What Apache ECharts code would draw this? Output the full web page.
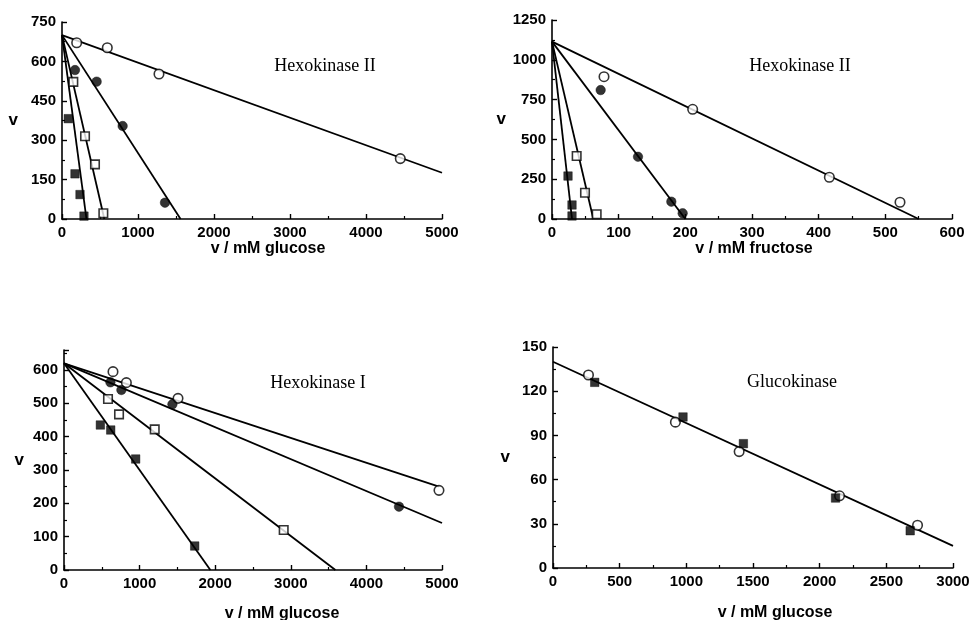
<!DOCTYPE html>
<html>
<head>
<meta charset="utf-8">
<script src="https://cdn.jsdelivr.net/npm/echarts@6/dist/echarts.min.js"></script>
<style>
html,body{margin:0;padding:0;background:#fff;}
#chart{width:972px;height:620px;}
</style>
</head>
<body>
<div id="chart"></div>
<script>
// ---------- Panel titles & axis names ----------
const titles = ['Hexokinase II', 'Hexokinase II', 'Hexokinase I', 'Glucokinase'];
const xNames = ['v / mM glucose', 'v / mM fructose', 'v / mM glucose', 'v / mM glucose'];
const yName = 'v';

// ---------- Panel 1: Hexokinase II, glucose ----------
const hk2GlcOpenCircle   = [[193,671],[596,652],[1276,552],[4451,230]];
const hk2GlcFilledCircle = [[171,567],[456,523],[798,354],[1355,62]];
const hk2GlcOpenSquare   = [[149,522],[303,315],[434,208],[544,22]];
const hk2GlcFilledSquare = [[83,382],[171,172],[237,93],[289,11]];
const hk2GlcFitOpenCircle   = [[0,700],[5000,176]];
const hk2GlcFitFilledCircle = [[0,700],[1560,0]];
const hk2GlcFitOpenSquare   = [[0,700],[557,0]];
const hk2GlcFitFilledSquare = [[0,700],[322,0]];

// ---------- Panel 2: Hexokinase II, fructose ----------
const hk2FruOpenCircle   = [[78,894],[211,689],[416,262],[522,105]];
const hk2FruFilledCircle = [[73,810],[129,391],[179,109],[196,36]];
const hk2FruOpenSquare   = [[37,396],[49.5,165],[67,30]];
const hk2FruFilledSquare = [[24,270],[30,88],[30,19]];
const hk2FruFitOpenCircle   = [[0,1114],[550,0]];
const hk2FruFitFilledCircle = [[0,1114],[200,0]];
const hk2FruFitOpenSquare   = [[0,1114],[62,0]];
const hk2FruFitFilledSquare = [[0,1114],[30,0]];

// ---------- Panel 3: Hexokinase I, glucose ----------
const hk1OpenCircle   = [[648,595],[825,562],[1508,515],[4960,239]];
const hk1FilledCircle = [[614,563],[759,540],[1434,497],[4431,190]];
const hk1OpenSquare   = [[582,513],[728,467],[1200,422],[2906,120]];
const hk1FilledSquare = [[481,435],[618,420],[948,333],[1729,72]];
const hk1FitOpenCircle   = [[0,620],[4960,250]];
const hk1FitFilledCircle = [[0,620],[5000,141]];
const hk1FitOpenSquare   = [[0,620],[3590,0]];
const hk1FitFilledSquare = [[0,620],[1936,0]];

// ---------- Panel 4: Glucokinase, glucose ----------
const gkOpenCircle   = [[266,131],[918,99],[1396,79],[2149,49],[2734,29]];
const gkFilledSquare = [[313,126],[975,102.5],[1428,84.4],[2119,47.5],[2679,25.3]];
const gkFit = [[0,140],[3000,15]];

// ---------- Axis ranges / ticks ----------
const xRanges = [[0,5000,1000],[0,600,100],[0,5000,1000],[0,3000,500]];
const yRanges = [[0,750,150],[0,1250,250],[0,660,100],[0,150,30]];

const SANS = "'Liberation Sans', Arial, Helvetica, sans-serif";
const SERIF = "'Liberation Serif', 'Times New Roman', serif";

const grids = [
  {left:62, top:22, width:380, height:197},
  {left:552, top:20, width:400, height:199},
  {left:64, top:350, width:378, height:220},
  {left:553, top:347, width:400, height:221}
].map(g=>Object.assign(g,{containLabel:false, outerBoundsMode:'none'}));

const xNameCfg = [
  {gap:22, pad:[0,0,0,32]},
  {gap:22, pad:[0,0,0,4]},
  {gap:36, pad:[0,0,0,58]},
  {gap:37, pad:[0,0,0,44]}
];
const yNameGap = [44, 46, 40, 43];

function axisCommon(){
  return {
    axisLine:{show:true, onZero:false, lineStyle:{color:'#000', width:1.6}},
    axisTick:{show:true, inside:true, length:5, lineStyle:{color:'#000', width:1.4}},
    minorTick:{show:true, splitNumber:2, length:3, lineStyle:{color:'#000', width:1.2}},
    splitLine:{show:false},
    axisLabel:{color:'#000', fontFamily:SANS, fontSize:15, fontWeight:'bold', margin:6,
      formatter:function(v){return String(v);}}
  };
}

const xAxes = xRanges.map((r,i)=>Object.assign(axisCommon(),{
  type:'value', gridIndex:i, min:r[0], max:r[1], interval:r[2],
  name:xNames[i], nameLocation:'middle', nameGap:xNameCfg[i].gap,
  nameTextStyle:{color:'#000', fontFamily:SANS, fontSize:16, fontWeight:'bold', padding:xNameCfg[i].pad}
}));

const yAxes = yRanges.map((r,i)=>Object.assign(axisCommon(),{
  type:'value', gridIndex:i, min:r[0], max:r[1], interval:r[2],
  name:yName, nameLocation:'middle', nameGap:yNameGap[i], nameRotate:0,
  nameTextStyle:{color:'#000', fontFamily:SANS, fontSize:17, fontWeight:'bold'}
}));
yAxes[2].axisLabel.showMaxLabel = false;

const titleComps = [
  {text:titles[0], left:320, top:52},
  {text:titles[1], left:795, top:52},
  {text:titles[2], left:313, top:369},
  {text:titles[3], left:787, top:368}
].map(t=>({text:t.text, left:t.left, top:t.top, textAlign:'center',
  textStyle:{fontFamily:SERIF, fontSize:18, fontWeight:'normal', color:'#000'}}));

function fit(data, i){
  return {type:'line', xAxisIndex:i, yAxisIndex:i, data:data, symbol:'none',
    lineStyle:{color:'#000', width:1.8}, silent:true, z:2, clip:true, animation:false};
}
function pts(data, i, kind){
  const open = kind==='oc' || kind==='os';
  const circ = kind==='oc' || kind==='fc';
  return {type:'scatter', xAxisIndex:i, yAxisIndex:i, data:data,
    symbol: circ ? 'circle' : 'rect',
    symbolSize: circ ? 9.5 : 8.5,
    itemStyle: open ? {color:'#fff', borderColor:'#000', borderWidth:1.6} : {color:'#000', borderColor:'#000', borderWidth:0.5},
    z:3, animation:false};
}

const series = [
  fit(hk2GlcFitOpenCircle,0), fit(hk2GlcFitFilledCircle,0), fit(hk2GlcFitOpenSquare,0), fit(hk2GlcFitFilledSquare,0),
  pts(hk2GlcOpenCircle,0,'oc'), pts(hk2GlcFilledCircle,0,'fc'), pts(hk2GlcOpenSquare,0,'os'), pts(hk2GlcFilledSquare,0,'fs'),

  fit(hk2FruFitOpenCircle,1), fit(hk2FruFitFilledCircle,1), fit(hk2FruFitOpenSquare,1), fit(hk2FruFitFilledSquare,1),
  pts(hk2FruOpenCircle,1,'oc'), pts(hk2FruFilledCircle,1,'fc'), pts(hk2FruOpenSquare,1,'os'), pts(hk2FruFilledSquare,1,'fs'),

  fit(hk1FitOpenCircle,2), fit(hk1FitFilledCircle,2), fit(hk1FitOpenSquare,2), fit(hk1FitFilledSquare,2),
  pts(hk1OpenCircle,2,'oc'), pts(hk1FilledCircle,2,'fc'), pts(hk1OpenSquare,2,'os'), pts(hk1FilledSquare,2,'fs'),

  fit(gkFit,3),
  pts(gkOpenCircle,3,'oc'), pts(gkFilledSquare,3,'fs')
];

const chart = echarts.init(document.getElementById('chart'), null, {renderer:'canvas'});
chart.setOption({
  backgroundColor:'#fff',
  animation:false,
  title:titleComps,
  grid:grids,
  xAxis:xAxes,
  yAxis:yAxes,
  series:series
});
</script>
</body>
</html>
